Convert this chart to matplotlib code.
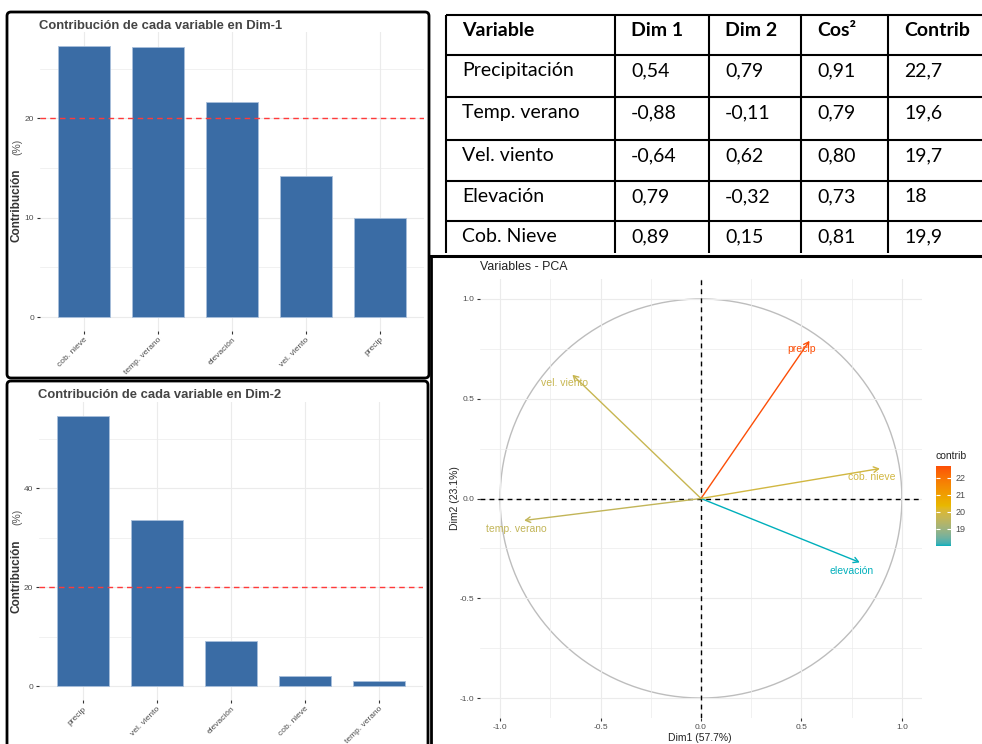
import matplotlib
matplotlib.use("Agg")
import matplotlib.pyplot as plt
import numpy as np
from matplotlib.cm import ScalarMappable
from matplotlib.colors import ListedColormap, Normalize
from matplotlib.patches import FancyBboxPatch

plt.rcParams["font.family"] = ["Liberation Sans", "DejaVu Sans"]

W, H = 982, 744

# ---------------------------------------------------------------------------
# Data
# ---------------------------------------------------------------------------
dim1_names = ["cob. nieve", "temp. verano", "elevación", "vel. viento", "precip"]
dim1_contrib = [27.3, 27.2, 21.7, 14.2, 10.0]

dim2_names = ["precip", "vel. viento", "elevación", "cob. nieve", "temp. verano"]
dim2_contrib = [54.6, 33.5, 9.1, 2.1, 1.1]

expected_contrib = 20.0  # 100 / 5 variables

table_header = ["Variable", "Dim 1", "Dim 2", "Cos²", "Contrib"]
table_vars = ["Precipitación", "Temp. verano", "Vel. viento", "Elevación", "Cob. Nieve"]
pca_names = ["precip", "temp. verano", "vel. viento", "elevación", "cob. nieve"]
coord_dim1 = [0.54, -0.88, -0.64, 0.79, 0.89]
coord_dim2 = [0.79, -0.11, 0.62, -0.32, 0.15]
cos2 = [0.91, 0.79, 0.80, 0.73, 0.81]
contrib = [22.7, 19.6, 19.7, 18.0, 19.9]

gradient_cols = ["#00AFBB", "#E7B800", "#FC4E07"]

BAR = "#3A6CA5"
BAR_EDGE = "#A8BFDB"
GRID = "#EBEBEB"
TICK_TXT = "#4D4D4D"


def px_rect(x0, y0, x1, y1):
    return [x0 / W, 1 - y1 / H, (x1 - x0) / W, (y1 - y0) / H]


def fx(x):
    return x / W


def fy(y):
    return 1 - y / H


# ---------------------------------------------------------------------------
# Lab-space gradient (like ggplot's gradientn)
# ---------------------------------------------------------------------------
_M = np.array([[0.4124, 0.3576, 0.1805],
               [0.2126, 0.7152, 0.0722],
               [0.0193, 0.1192, 0.9505]])
_WHITE = np.array([0.95047, 1.0, 1.08883])


def to_lab(hexcol):
    c = np.array([int(hexcol[i:i + 2], 16) / 255 for i in (1, 3, 5)])
    c = np.where(c > 0.04045, ((c + 0.055) / 1.055) ** 2.4, c / 12.92)
    xyz = _M @ c / _WHITE
    f = np.where(xyz > 0.008856, np.cbrt(xyz), 7.787 * xyz + 16 / 116)
    return np.array([116 * f[1] - 16, 500 * (f[0] - f[1]), 200 * (f[1] - f[2])])


def to_rgb(lab):
    fy_ = (lab[0] + 16) / 116
    f = np.array([fy_ + lab[1] / 500, fy_, fy_ - lab[2] / 200])
    xyz = np.where(f ** 3 > 0.008856, f ** 3, (f - 16 / 116) / 7.787) * _WHITE
    c = np.clip(np.linalg.solve(_M, xyz), 0, 1)
    c = np.where(c > 0.0031308, 1.055 * c ** (1 / 2.4) - 0.055, 12.92 * c)
    return np.clip(c, 0, 1)


def lab_cmap(cols, n=256):
    labs = [to_lab(c) for c in cols]
    out = []
    for t in np.linspace(0, 1, n):
        s = t * (len(labs) - 1)
        i = min(int(s), len(labs) - 2)
        w = s - i
        out.append(to_rgb(labs[i] * (1 - w) + labs[i + 1] * w))
    return ListedColormap(out)


fig = plt.figure(figsize=(W / 100, H / 100), dpi=100)


# ---------------------------------------------------------------------------
# Contribution bar panels
# ---------------------------------------------------------------------------
def bar_panel(rect, names, values, step, title, title_y, lab_y, pct_y):
    ax = fig.add_axes(px_rect(*rect))
    x = np.arange(len(names))
    ax.bar(x, values, width=0.7, color=BAR, edgecolor=BAR_EDGE,
           linewidth=0.6, zorder=2)
    ax.axhline(expected_contrib, color="#FF3A3A", ls=(0, (4, 3)), lw=1.0,
               zorder=3)
    top = max(values)
    ax.set_xlim(-0.6, len(names) - 0.4)
    ax.set_ylim(-0.05 * top, top * 1.05)
    ax.set_yticks(np.arange(0, top, step))
    ax.set_yticks(np.arange(step / 2, top * 1.05, step), minor=True)
    ax.set_xticks(x)
    ax.set_xticklabels(names, rotation=45, ha="right", rotation_mode="anchor")
    ax.grid(which="major", color=GRID, lw=0.8, zorder=0)
    ax.grid(which="minor", axis="y", color=GRID, lw=0.5, zorder=0)
    ax.tick_params(axis="both", length=2.5, width=0.8, color="#333333",
                   labelsize=6, labelcolor=TICK_TXT, pad=1.5)
    ax.tick_params(which="minor", length=0)
    for s in ax.spines.values():
        s.set_visible(False)
    ax.set_axisbelow(True)
    fig.text(fx(rect[0] - 1), fy(title_y), title, fontsize=9.4,
             fontweight="bold", color="#444444", va="center", ha="left")
    fig.text(fx(17), fy(lab_y), "Contribución", rotation=90, fontsize=8.5,
             fontweight="bold", color="#333333", va="center", ha="center")
    fig.text(fx(17), fy(pct_y), "(%)", rotation=90, fontsize=7.5,
             color="#555555", va="center", ha="center")
    return ax


bar_panel((39.6, 32.4, 424.4, 330.6), dim1_names, dim1_contrib, 10,
          "Contribución de cada variable en Dim-1", 26, 205, 147)
bar_panel((38.6, 402.3, 423.4, 699.8), dim2_names, dim2_contrib, 20,
          "Contribución de cada variable en Dim-2", 395, 576, 517)

# ---------------------------------------------------------------------------
# PCA correlation circle
# ---------------------------------------------------------------------------
cmap = lab_cmap(gradient_cols)
norm = Normalize(min(contrib), max(contrib))

ax = fig.add_axes(px_rect(480, 279, 922, 718))
ax.set_xlim(-1.1, 1.1)
ax.set_ylim(-1.1, 1.1)
ticks = [-1.0, -0.5, 0.0, 0.5, 1.0]
ax.set_xticks(ticks)
ax.set_yticks(ticks)
ax.set_xticklabels([f"{t:.1f}" for t in ticks])
ax.set_yticklabels([f"{t:.1f}" for t in ticks])
ax.set_xticks([-0.75, -0.25, 0.25, 0.75], minor=True)
ax.set_yticks([-0.75, -0.25, 0.25, 0.75], minor=True)
ax.grid(which="major", color=GRID, lw=0.8, zorder=0)
ax.grid(which="minor", color=GRID, lw=0.5, zorder=0)
ax.tick_params(axis="both", length=2.5, width=0.8, color="#333333",
               labelsize=6, labelcolor=TICK_TXT, pad=1.5)
ax.tick_params(which="minor", length=0)
for s in ax.spines.values():
    s.set_visible(False)

theta = np.linspace(0, 2 * np.pi, 300)
ax.plot(np.cos(theta), np.sin(theta), color="#BDBDBD", lw=1.0, zorder=1)
ax.axhline(0, color="black", ls=(0, (3.5, 3)), lw=1.0, zorder=2)
ax.axvline(0, color="black", ls=(0, (3.5, 3)), lw=1.0, zorder=2)

for name, d1, d2, c in zip(pca_names, coord_dim1, coord_dim2, contrib):
    col = cmap(norm(c))
    ax.annotate("", xy=(d1, d2), xytext=(0, 0), zorder=3,
                arrowprops=dict(arrowstyle="->,head_length=0.35,head_width=0.2",
                                color=col, lw=1.0, shrinkA=0, shrinkB=0))
    ax.text(d1 - 0.04, d2 - 0.043, name, color=col, fontsize=7.5,
            ha="center", va="center", zorder=4)

fig.text(fx(480), fy(267), "Variables - PCA", fontsize=8.9, color="#222222",
         ha="left", va="center")
fig.text(fx(700), fy(738), "Dim1 (57.7%)", fontsize=7.5, color="#222222",
         ha="center", va="center")
fig.text(fx(455), fy(498), "Dim2 (23.1%)", fontsize=7.5, color="#222222",
         rotation=90, ha="center", va="center")

cax = fig.add_axes(px_rect(936, 466, 951, 546))
cb = fig.colorbar(ScalarMappable(norm=norm, cmap=cmap), cax=cax)
cb.outline.set_visible(False)
cb.set_ticks([19, 20, 21, 22])
cax.tick_params(labelsize=6.5, labelcolor=TICK_TXT, color="white",
                direction="in", length=3, width=0.8, left=True, right=True,
                pad=3)
fig.text(fx(936), fy(456), "contrib", fontsize=7.5, color="#222222",
         ha="left", va="center")

# ---------------------------------------------------------------------------
# Overlay: table and panel frames (pixel coordinates)
# ---------------------------------------------------------------------------
ov = fig.add_axes([0, 0, 1, 1])
ov.set_xlim(0, W)
ov.set_ylim(H, 0)
ov.axis("off")

col_edges = [446, 615, 709, 801, 888]
row_edges = [15, 55, 97, 140, 181, 221]
for xe in col_edges:
    ov.plot([xe, xe], [row_edges[0], 253], color="black", lw=1.5,
            solid_capstyle="butt")
for ye in row_edges:
    ov.plot([col_edges[0], W + 5], [ye, ye], color="black", lw=1.5,
            solid_capstyle="butt")

table_rows = [
    [v, f"{a:.2f}".replace(".", ","), f"{b:.2f}".replace(".", ","),
     f"{c:.2f}".replace(".", ","), f"{k:g}".replace(".", ",")]
    for v, a, b, c, k in zip(table_vars, coord_dim1, coord_dim2, cos2, contrib)
]
for j, txt in enumerate(table_header):
    ov.text(col_edges[j] + 16, row_edges[0] + 21, txt, fontsize=14,
            fontweight="bold", family="Lato", ha="left", va="baseline")
for i, row in enumerate(table_rows):
    for j, txt in enumerate(row):
        ov.text(col_edges[j] + 16, row_edges[i + 1] + 21, txt, fontsize=14,
                family="Lato", ha="left", va="baseline")

ov.add_patch(FancyBboxPatch((7, 12), 422, 366,
                            boxstyle="round,pad=0,rounding_size=4",
                            fill=False, ec="black", lw=2))
ov.add_patch(FancyBboxPatch((7, 381), 421, 380,
                            boxstyle="round,pad=0,rounding_size=4",
                            fill=False, ec="black", lw=2))
ov.plot([431, 431], [256, H + 5], color="black", lw=2)
ov.plot([430, W + 5], [256, 256], color="black", lw=2.2)

fig.savefig("out.png", dpi=100)
